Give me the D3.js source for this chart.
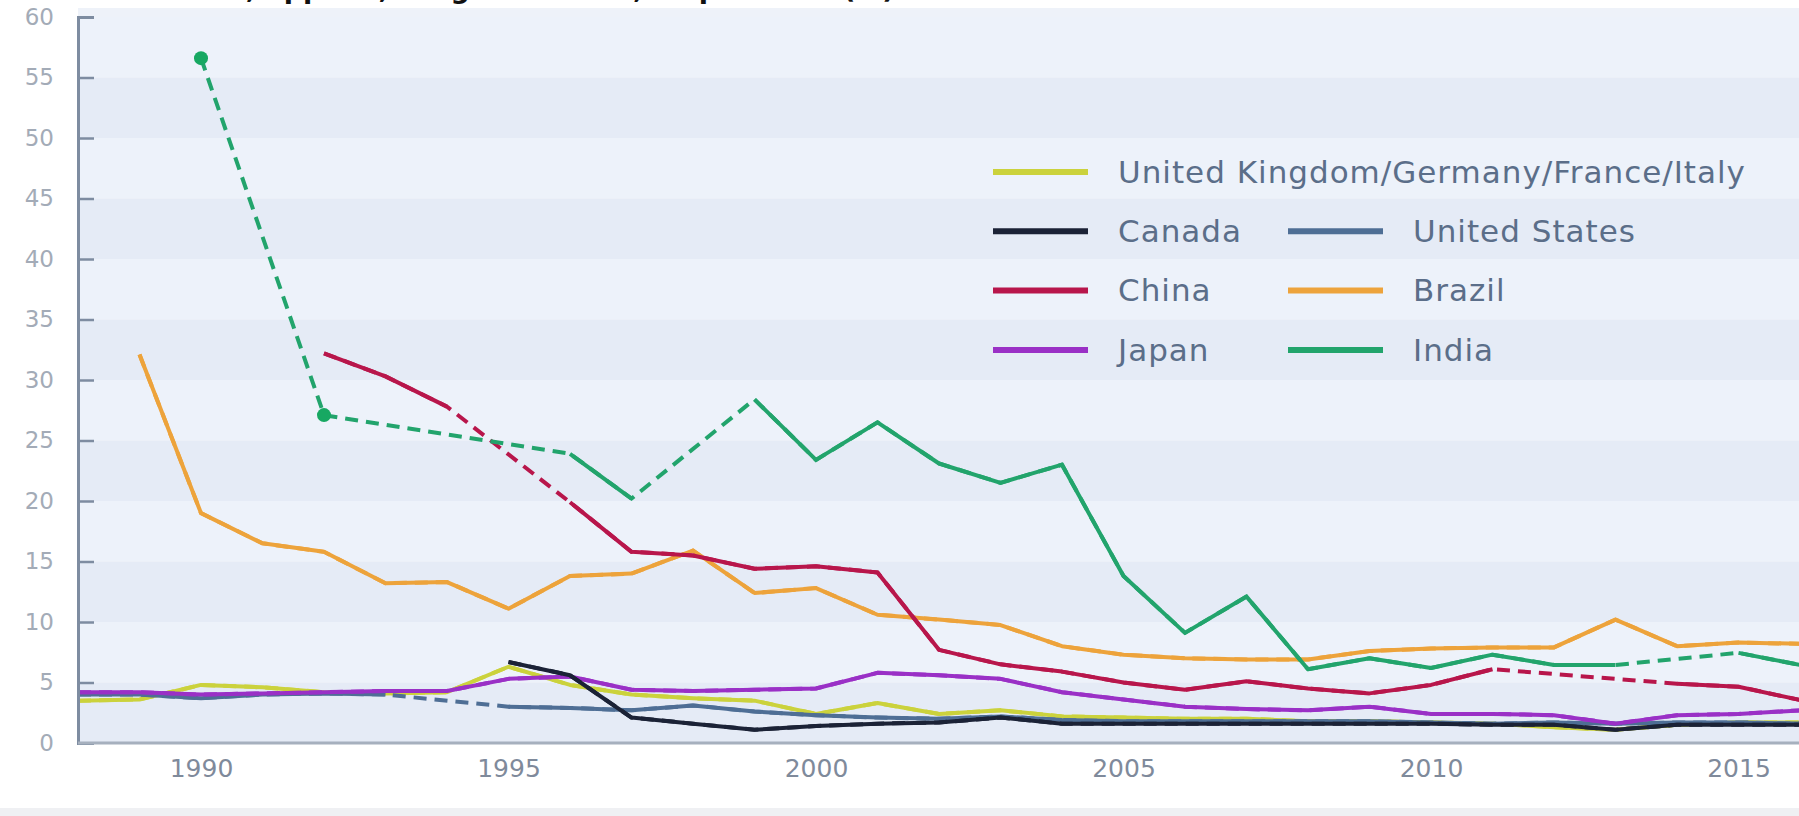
<!DOCTYPE html>
<html>
<head>
<meta charset="utf-8">
<script src="https://cdn.jsdelivr.net/npm/d3@7"></script>
<style>
  html, body { margin: 0; padding: 0; background: #fff; }
  svg { display: block; font-family: "DejaVu Sans", sans-serif; }
</style>
</head>
<body>
<svg id="chart" width="1799" height="816"></svg>
<script>
// Valores (null = ano sem dado, ligado por tracejado)
const years = [1988, 1989, 1990, 1991, 1992, 1993, 1994, 1995, 1996, 1997,
               1998, 1999, 2000, 2001, 2002, 2003, 2004, 2005, 2006, 2007,
               2008, 2009, 2010, 2011, 2012, 2013, 2014, 2015, 2016];

const ukGroup = [3.5, 3.6, 4.8, 4.6, 4.2, 4.1, 4.2, 6.3, 4.8, 4.0,
                 3.7, 3.5, 2.4, 3.3, 2.4, 2.7, 2.2, 2.1, 2.0, 2.0,
                 1.8, 1.8, 1.7, 1.6, 1.3, 1.1, 1.5, 1.7, 1.7];
const canada = [null, null, null, null, null, null, null, 6.7, 5.6, 2.1,
                1.6, 1.1, 1.4, 1.6, 1.7, 2.1, 1.6, 1.6, 1.6, 1.6,
                1.6, 1.6, 1.6, 1.5, 1.5, 1.1, 1.5, 1.5, 1.5];
const unitedStates = [4.0, 4.0, 3.7, 4.0, 4.1, 4.0, null, 3.0, 2.9, 2.7,
                      3.1, 2.6, 2.3, 2.1, 2.0, 2.2, 1.9, 1.8, 1.8, 1.8,
                      1.8, 1.8, 1.7, 1.6, 1.7, 1.6, 1.7, 1.7, 1.6];
const china = [null, null, null, null, 32.2, 30.3, 27.8, null, 19.9, 15.8,
               15.5, 14.4, 14.6, 14.1, 7.7, 6.5, 5.9, 5.0, 4.4, 5.1,
               4.5, 4.1, 4.8, 6.1, null, null, 4.9, 4.65, 3.55];
const brazil = [null, 32.1, 19.0, 16.5, 15.8, 13.2, 13.3, 11.1, 13.8, 14.0,
                15.9, 12.4, 12.8, 10.6, 10.2, 9.75, 8.0, 7.3, 7.0, 6.9,
                6.9, 7.6, 7.8, 7.9, 7.9, 10.2, 8.0, 8.3, 8.2];
const japan = [4.2, 4.2, 4.0, 4.1, 4.2, 4.3, 4.3, 5.3, 5.5, 4.4,
               4.3, 4.4, 4.5, 5.8, 5.6, 5.3, 4.2, 3.6, 3.0, 2.8,
               2.7, 3.0, 2.4, 2.4, 2.3, 1.6, 2.3, 2.4, 2.7];
const india = [null, null, 56.6, null, 27.1, null, null, null, 23.9, 20.2,
               null, 28.4, 23.4, 26.5, 23.1, 21.5, 23.0, 13.8, 9.1, 12.1,
               6.1, 7.0, 6.2, 7.3, 6.45, 6.45, null, 7.45, 6.45];

const yTicks = [0, 5, 10, 15, 20, 25, 30, 35, 40, 45, 50, 55, 60];
const xTicks = [1990, 1995, 2000, 2005, 2010, 2015];

const titleText = "Tariff rate, applied, weighted mean, all products (%)";

// ordem de desenho (a última fica por cima)
const series = [
    { name: "Brazil", values: brazil, color: "#eda33b" },
    { name: "United Kingdom/Germany/France/Italy", values: ukGroup, color: "#cbd23c" },
    { name: "United States", values: unitedStates, color: "#4e6e95" },
    { name: "Japan", values: japan, color: "#9a30c6" },
    { name: "Canada", values: canada, color: "#1b2236" },
    { name: "China", values: china, color: "#b8164b" },
    { name: "India", values: india, color: "#22a46c" }
];

const legendRows = [
    ["United Kingdom/Germany/France/Italy"],
    ["Canada", "United States"],
    ["China", "Brazil"],
    ["Japan", "India"]
];

const svg = d3.select("#chart");
const width = 1799;

const x = d3.scaleLinear().domain([1988, 2016]).range([78, 1800]);
const y = d3.scaleLinear().domain([0, 60]).range([743, 17]);

// título cortado no topo
svg.append("text")
    .attr("x", 96)
    .attr("y", -2)
    .attr("font-size", 27)
    .attr("font-weight", "bold")
    .attr("fill", "#111")
    .text(titleText);

// fundo da área do gráfico
svg.append("rect")
    .attr("x", x(1988)).attr("y", 8)
    .attr("width", width - x(1988)).attr("height", y(0) - 8)
    .attr("fill", "#eef2f9");

svg.append("g")
    .selectAll("rect")
    .data(yTicks.slice(0, -1))
    .enter().append("rect")
    .attr("x", x(1988))
    .attr("y", d => y(d + 5))
    .attr("width", width - x(1988))
    .attr("height", d => y(d) - y(d + 5))
    .attr("fill", (d, i) => i % 2 === 0 ? "#e5ebf6" : "#edf2fa");

// faixa cinza no rodapé
svg.append("rect")
    .attr("x", 0).attr("y", 808)
    .attr("width", width).attr("height", 8)
    .attr("fill", "#eff0f3");

// linhas
svg.append("clipPath").attr("id", "plot-clip")
    .append("rect")
    .attr("x", x(1988)).attr("y", 0)
    .attr("width", width - x(1988)).attr("height", y(0));

const plot = svg.append("g").attr("clip-path", "url(#plot-clip)");

const line = d3.line()
    .defined(d => d.v !== null)
    .x(d => x(d.year))
    .y(d => y(d.v));

series.forEach(s => {
    const pts = years.map((yr, i) => ({ year: yr, v: s.values[i] }));
    const known = pts.filter(d => d.v !== null);

    // tracejado por cima dos anos sem dado
    plot.append("path")
        .datum(known)
        .attr("fill", "none")
        .attr("stroke", s.color)
        .attr("stroke-width", 4)
        .attr("stroke-dasharray", "13,8")
        .attr("d", line);

    plot.append("path")
        .datum(pts)
        .attr("fill", "none")
        .attr("stroke", s.color)
        .attr("stroke-width", 4)
        .attr("stroke-linejoin", "round")
        .attr("d", line);

    // ponto isolado (sem vizinhos) ganha marcador
    const lonely = pts.filter((d, i) => d.v !== null &&
        (i === 0 || pts[i - 1].v === null) &&
        (i === pts.length - 1 || pts[i + 1].v === null));
    plot.selectAll(null)
        .data(lonely)
        .enter().append("circle")
        .attr("cx", d => x(d.year))
        .attr("cy", d => y(d.v))
        .attr("r", 7)
        .attr("fill", "#17a862");
});

// eixos
const yAxis = svg.append("g")
    .attr("transform", `translate(${x(1988)},0)`)
    .call(d3.axisLeft(y).tickValues(yTicks).tickSize(-16).tickPadding(24));
yAxis.select(".domain").attr("stroke", "#7e8ca1").attr("stroke-width", 3);
yAxis.selectAll(".tick line").attr("stroke", "#7e8ca1").attr("stroke-width", 2.5);
yAxis.selectAll(".tick text")
    .attr("font-size", 23)
    .attr("font-family", "DejaVu Sans")
    .attr("fill", "#a3abb7");

const xAxis = svg.append("g")
    .attr("transform", `translate(0,${y(0)})`)
    .call(d3.axisBottom(x).tickValues(xTicks).tickFormat(d3.format("d")).tickSize(0).tickPadding(16));
xAxis.select(".domain")
    .attr("d", `M${x(1988)},0H${width}`)
    .attr("stroke", "#a6b0be").attr("stroke-width", 3);
xAxis.selectAll(".tick text")
    .attr("font-size", 25)
    .attr("font-family", "DejaVu Sans")
    .attr("fill", "#7f8a9b");

// legenda
const colorOf = name => series.find(s => s.name === name).color;
const legend = svg.append("g");
legendRows.forEach((row, r) => {
    row.forEach((name, c) => {
        const lx = c === 0 ? 993 : 1288;
        const ly = 172 + r * 59.3;
        legend.append("line")
            .attr("x1", lx).attr("x2", lx + 95)
            .attr("y1", ly).attr("y2", ly)
            .attr("stroke", colorOf(name))
            .attr("stroke-width", 6);
        legend.append("text")
            .attr("x", lx + 125)
            .attr("y", ly)
            .attr("dy", "0.35em")
            .attr("font-size", 31)
            .attr("letter-spacing", 1)
            .attr("fill", "#5b6e89")
            .text(name);
    });
});
</script>
</body>
</html>
